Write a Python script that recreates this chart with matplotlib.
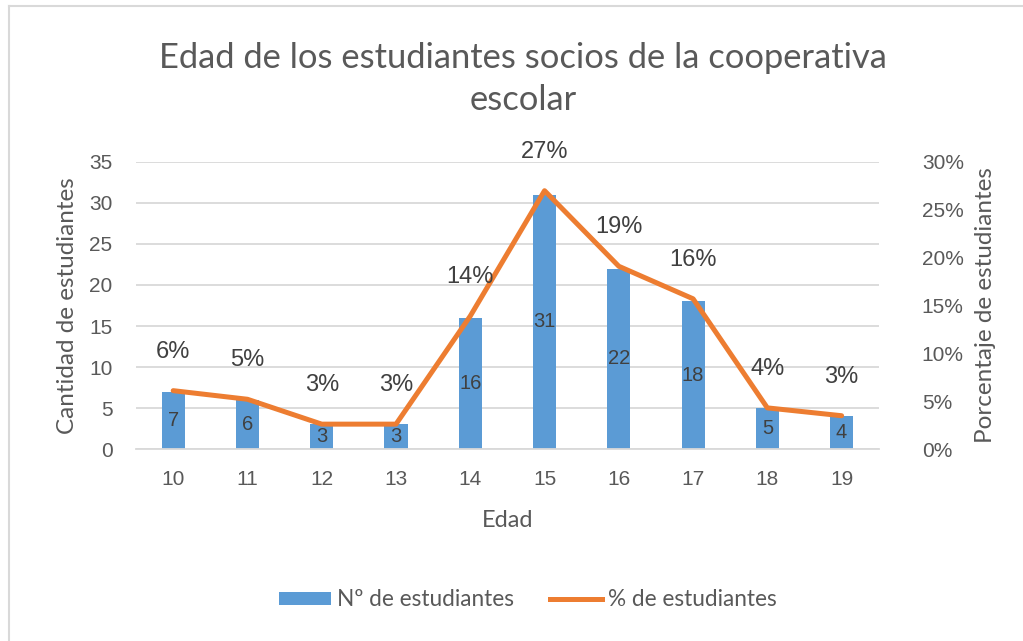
import matplotlib
matplotlib.use("Agg")
import matplotlib.pyplot as plt
from matplotlib.lines import Line2D
from matplotlib.patches import Patch
from matplotlib.ticker import FuncFormatter

# datos
edades = ['10', '11', '12', '13', '14', '15', '16', '17', '18', '19']
cantidad = [7, 6, 3, 3, 16, 31, 22, 18, 5, 4]
porcentaje = [0.061, 0.052, 0.026, 0.026, 0.139, 0.270, 0.191, 0.157, 0.043, 0.0348]

azul = '#5B9BD5'
naranja = '#ED7D31'
gris = '#595959'

plt.rcParams['font.family'] = ['Lato', 'DejaVu Sans']

fig = plt.figure(figsize=(10.23, 6.41), dpi=100)
ax = fig.add_axes([0.133, 0.2995, 0.726, 0.4478])
ax2 = ax.twinx()

x = range(len(edades))
ax.bar(x, cantidad, width=0.31, color=azul, zorder=2)
ax2.plot(x, porcentaje, color=naranja, lw=3.6, solid_capstyle='round', zorder=3)

# etiquetas de barras (centro)
for xi, v in zip(x, cantidad):
    ax.text(xi, v / 2, str(v), ha='center', va='center', fontsize=14.5,
            color='#404040', family='Liberation Sans', zorder=4)

# etiquetas de porcentaje
for xi, p in zip(x, porcentaje):
    ax2.annotate(f"{p * 100:.0f}%", (xi, p), xytext=(0, 28), textcoords='offset points',
                 ha='center', va='center', fontsize=17, color='#404040',
                 family='Liberation Sans')

ax.set_xlim(-0.5, len(edades) - 0.5)
ax.set_ylim(0, 35)
ax.set_yticks(range(0, 36, 5))
ax2.set_ylim(0, 0.30)
ax2.set_yticks([0, 0.05, 0.10, 0.15, 0.20, 0.25, 0.30])
ax2.yaxis.set_major_formatter(FuncFormatter(lambda v, _: f"{v * 100:.0f}%"))

ax.set_xticks(list(x))
ax.set_xticklabels(edades)
ax.grid(axis='y', color='#D9D9D9', lw=1.3, zorder=0)
ax.set_axisbelow(True)

for a in (ax, ax2):
    for s in a.spines.values():
        s.set_visible(False)
    a.tick_params(length=0, labelsize=15, colors=gris)
    for lab in a.get_xticklabels() + a.get_yticklabels():
        lab.set_family('Liberation Sans')
ax.spines['bottom'].set_visible(True)
ax.spines['bottom'].set_color('#D9D9D9')
ax.spines['bottom'].set_linewidth(1.3)
ax.tick_params(axis='x', pad=15)
ax.tick_params(axis='y', pad=17)
ax2.tick_params(axis='y', pad=31)

ax.set_xlabel("Edad", fontsize=17, color=gris, labelpad=15)
ax.set_ylabel("Cantidad de estudiantes", fontsize=17.5, color=gris, labelpad=8)
ax2.set_ylabel("Porcentaje de estudiantes", fontsize=17.5, color=gris, labelpad=8)

fig.text(0.5115, 0.877, "Edad de los estudiantes socios de la cooperativa\nescolar",
         ha='center', va='center', fontsize=24.8, color=gris, linespacing=1.4)

handles = [Patch(facecolor=azul, label='Nº de estudiantes'),
           Line2D([0], [0], color=naranja, lw=3.6, label='% de estudiantes')]
leg = fig.legend(handles=handles, loc='center', bbox_to_anchor=(0.516, 0.064), ncol=2,
                 frameon=False, fontsize=16.3, handlelength=2.3, handleheight=0.5,
                 columnspacing=1.6, handletextpad=0.25)
for t in leg.get_texts():
    t.set_color(gris)

# marco de la imagen
fig.add_artist(Line2D([9 / 1023, 9 / 1023], [0, 1 - 6 / 641], transform=fig.transFigure,
                      color='#D9D9D9', lw=1.5))
fig.add_artist(Line2D([9 / 1023, 1], [1 - 6 / 641, 1 - 6 / 641], transform=fig.transFigure,
                      color='#D9D9D9', lw=1.5))

fig.savefig("out.png", dpi=100, facecolor='white')
